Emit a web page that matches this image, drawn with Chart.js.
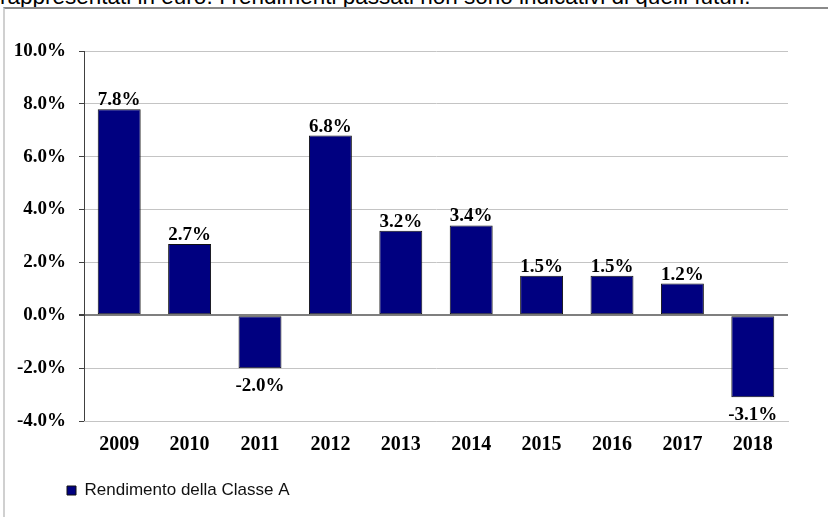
<!DOCTYPE html>
<html>
<head>
<meta charset="utf-8">
<script src="https://cdn.jsdelivr.net/npm/chart.js@4.4.0/dist/chart.umd.min.js"></script>
<style>
    html, body { margin: 0; padding: 0; background: #fff; overflow: hidden; }
    #testo-sopra {
        position: absolute; left: 0; top: -14px;
        font: 22.5px "Liberation Sans", Arial, sans-serif; line-height: 1;
        color: #000; white-space: nowrap;
    }
    #riquadro {
        position: absolute; left: 3px; top: 7px; width: 900px; height: 600px;
        border-top: 2px solid #8a8a8a; border-left: 2px solid #d0d0d0;
    }
    #grafico { position: absolute; left: 0; top: 0; }
</style>
</head>
<body>
<div id="testo-sopra">rappresentati in euro. I rendimenti passati non sono indicativi di quelli futuri.</div>
<div id="riquadro"></div>
<canvas id="grafico" width="828" height="517"></canvas>
<script>
// - - - - - - - - - - Dati - - - - - - - - - -
const anni = ['2009', '2010', '2011', '2012', '2013', '2014', '2015', '2016', '2017', '2018'];
const rendimento_classe_a = [7.8, 2.7, -2.0, 6.8, 3.2, 3.4, 1.5, 1.5, 1.2, -3.1];
const tick_y = [-4, -2, 0, 2, 4, 6, 8, 10];

const serif_bold = { family: '"Liberation Serif", "Times New Roman", serif', weight: 'bold' };

// Etichette dei valori sopra / sotto le barre
const etichette_valori = {
    id: 'etichette_valori',
    afterLayout(chart) {
        // legenda spostata a destra come nell'originale
        chart.legend.left += 57;
    },
    afterDatasetsDraw(chart) {
        const ctx = chart.ctx;
        const meta = chart.getDatasetMeta(0);
        ctx.save();
        ctx.font = 'bold 19px "Liberation Serif", "Times New Roman", serif';
        ctx.fillStyle = '#000';
        ctx.textAlign = 'center';
        meta.data.forEach(function(bar, i) {
            const v = rendimento_classe_a[i];
            const testo = v.toFixed(1) + '%';
            if (v >= 0) {
                ctx.textBaseline = 'alphabetic';
                ctx.fillText(testo, bar.x, bar.y - 4);
            } else {
                ctx.textBaseline = 'top';
                ctx.fillText(testo, bar.x, bar.y + 8);
            }
        });
        ctx.restore();
    }
};

const ctx_grafico = document.getElementById('grafico').getContext('2d');

const grafico = new Chart(ctx_grafico, {
    type: 'bar',
    data: {
        labels: anni,
        datasets: [{
            label: 'Rendimento della Classe A',
            data: rendimento_classe_a,
            backgroundColor: '#000080',
            borderColor: '#111111',
            borderWidth: 1,
            borderSkipped: false,
            barPercentage: 0.61,
            categoryPercentage: 1.0
        }]
    },
    options: {
        responsive: false,
        animation: false,
        devicePixelRatio: 1,
        layout: { padding: { top: 51, right: 40, bottom: 8, left: 0 } },
        scales: {
            y: {
                min: -4,
                max: 10,
                afterBuildTicks: function(scale) {
                    scale.ticks = tick_y.map(function(v) { return { value: v }; });
                },
                afterFit: function(scale) { scale.width = 84; },
                ticks: {
                    color: '#000',
                    padding: 13,
                    font: { ...serif_bold, size: 19 },
                    callback: function(value) { return value.toFixed(1) + '%'; }
                },
                grid: {
                    color: function(c) { return c.tick && c.tick.value === 0 ? '#7f7f7f' : '#c4c4c4'; },
                    lineWidth: function(c) { return c.tick && c.tick.value === 0 ? 2 : 1; },
                    tickColor: '#404040',
                    tickLength: 5
                },
                border: { display: true, color: '#404040', width: 1 }
            },
            x: {
                afterFit: function(scale) { scale.height = 51; },
                ticks: {
                    color: '#000',
                    padding: 12,
                    maxRotation: 0,
                    font: { ...serif_bold, size: 20 }
                },
                grid: { display: false, drawTicks: false },
                border: { display: true, color: '#c4c4c4', width: 1 }
            }
        },
        plugins: {
            legend: {
                position: 'bottom',
                align: 'start',
                labels: {
                    boxWidth: 9,
                    boxHeight: 9,
                    padding: 10,
                    color: '#111',
                    font: { family: '"Liberation Sans", Arial, sans-serif', size: 17 }
                }
            },
            tooltip: { enabled: false }
        }
    },
    plugins: [etichette_valori]
});
</script>
</body>
</html>
